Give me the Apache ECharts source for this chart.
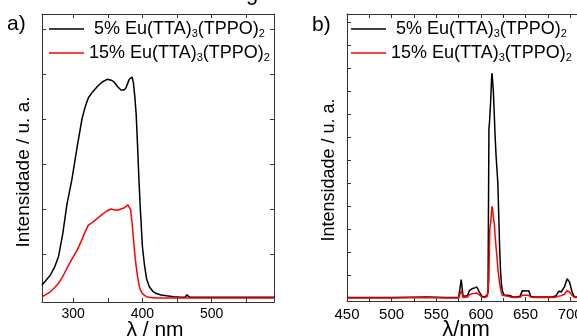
<!DOCTYPE html>
<html>
<head>
<meta charset="utf-8">
<script src="https://cdn.jsdelivr.net/npm/echarts@6/dist/echarts.min.js"></script>
<style>
html,body{margin:0;padding:0;background:#fff;}
#c{width:577px;height:336px;}
</style>
</head>
<body>
<div id="c"></div>
<script>
// ---- Panel a) excitation spectra ----
const exLambda = [255,260,267,273,279,285,291,298,306,313,318,322,328,335,342,349,355,359,364,369,373,376,379,381,383,385,387,389,391,393,395,397,400,403,406,410,415,420,427,435,445,455,462,464,465,466,468,475,500,530,560,590];
const ex5 = [0.31,0.40,0.53,0.70,0.95,1.45,2.10,2.64,3.40,4.02,4.30,4.47,4.60,4.72,4.82,4.88,4.86,4.82,4.72,4.64,4.64,4.68,4.80,4.88,4.92,4.93,4.80,4.50,4.10,3.40,2.64,2.00,1.16,0.75,0.45,0.27,0.17,0.12,0.09,0.07,0.05,0.04,0.04,0.09,0.12,0.05,0.04,0.04,0.04,0.04,0.04,0.04];
const ex15 = [0.05,0.09,0.16,0.25,0.35,0.50,0.68,0.88,1.09,1.33,1.52,1.64,1.70,1.79,1.88,1.96,2.00,1.98,1.97,2.00,2.02,2.05,2.09,2.08,1.98,1.70,1.35,1.00,0.72,0.50,0.32,0.20,0.12,0.08,0.05,0.04,0.03,0.02,0.02,0.02,0.02,0.02,0.02,0.02,0.02,0.02,0.02,0.02,0.02,0.02,0.02,0.02];
const exTickLabels = [300,400,500];
const exTicks = [300,350,400,450,500,550];

// ---- Panel b) emission spectra ----
const emLambda = [450,500,540,560,575,577,578,579,580,582,585,587,590,593,595.5,598,601,604,606,607,608,609,609.5,610,611,612,612.5,613,614,615,616,617,618,619,620,621,622,623,624,626,630,633,636,640,644,646.5,648.5,650.5,652,653.5,656,660,670,680,684.3,687.2,689.9,693.6,696.6,699.2,702.2,704.8,708,712,720];
const em5 = [0.01,0.01,0.02,0.01,0.01,0.03,0.40,0.40,0.04,0.03,0.05,0.16,0.20,0.22,0.24,0.14,0.04,0.02,0.03,0.06,0.12,3.70,3.78,3.80,4.30,4.80,4.90,4.92,4.50,4.00,3.50,3.10,2.80,2.50,1.80,1.10,0.60,0.30,0.16,0.06,0.06,0.05,0.02,0.02,0.04,0.16,0.15,0.15,0.15,0.16,0.03,0.02,0.02,0.02,0.05,0.15,0.13,0.24,0.42,0.35,0.13,0.02,0.02,0.02,0.02];
const em15 = [0.00,0.00,0.01,0.00,0.00,0.01,0.16,0.16,0.01,0.01,0.02,0.07,0.09,0.10,0.11,0.07,0.02,0.01,0.02,0.03,0.04,0.40,1.04,1.50,1.65,1.90,2.00,1.95,1.75,1.62,1.35,1.10,0.90,0.65,0.48,0.33,0.20,0.12,0.06,0.02,0.04,0.02,0.01,0.01,0.02,0.06,0.06,0.06,0.06,0.06,0.02,0.01,0.01,0.01,0.02,0.04,0.05,0.08,0.16,0.13,0.06,0.01,0.01,0.01,0.01];
const emYTicks = [0.5,1,1.5,2,2.5,3,3.5,4,4.5,5,5.5,6];

const seriesNames = ['5% Eu(TTA)3(TPPO)2','15% Eu(TTA)3(TPPO)2'];
const yTitle = 'Intensidade / u. a.';
const xTitleA = 'λ / nm';
const xTitleB = 'λ/nm';

const FONT = '"Liberation Sans", Arial, sans-serif';
const AX = '#333';
const pairs = (xs, ys) => xs.map((x, i) => [x, ys[i]]);

const chart = echarts.init(document.getElementById('c'), null, {renderer: 'canvas'});

function frameAxis(extra) {
  return Object.assign({
    type: 'value',
    axisLine: {show: true, onZero: false, lineStyle: {color: AX, width: 1}},
    axisTick: {show: true, inside: true, length: 4, lineStyle: {color: AX, width: 1}},
    axisLabel: {show: false},
    splitLine: {show: false}
  }, extra);
}

const legendCommon = {
  orient: 'vertical',
  padding: 0,
  itemWidth: 35,
  itemHeight: 14,
  itemGap: 4,
  icon: 'path://M0,0 H40 V1.6 H0 Z',
  selectedMode: false,
  textStyle: {
    fontFamily: FONT, fontSize: 18, color: '#000',
    rich: {
      n: {fontFamily: FONT, fontSize: 18, color: '#000', lineHeight: 20},
      s: {fontFamily: FONT, fontSize: 11, color: '#000', verticalAlign: 'bottom', lineHeight: 20, padding: [9, 0, 0, 0]}
    }
  },
  formatter: function (name) {
    const lead = name.indexOf('5%') === 0 ? ' ' : '';
    return (lead + name).replace(/\)(\d)/g, '){s|$1}').replace(/^([^{]+)\{/, '{n|$1}{').replace(/\}([^{]+)\{/g, '}{n|$1}{');
  }
};

const option = {
  animation: false,
  backgroundColor: '#fff',
  grid: [
    {left: 42, top: 14, width: 232, height: 288, containLabel: false, outerBoundsMode: 'none'},
    {left: 347, top: 14, width: 241, height: 287, containLabel: false, outerBoundsMode: 'none'}
  ],
  legend: [
    Object.assign({}, legendCommon, {left: 49, top: 19, data: seriesNames}),
    Object.assign({}, legendCommon, {left: 351, top: 19, data: seriesNames})
  ],
  xAxis: [
    frameAxis({gridIndex: 0, position: 'bottom', min: 255, max: 590,
      axisTick: {show: true, inside: true, length: 4, customValues: exTicks, lineStyle: {color: AX}},
      axisLabel: {show: true, customValues: exTickLabels, margin: 5, fontFamily: FONT, fontSize: 14, color: '#000'}}),
    frameAxis({gridIndex: 0, position: 'top', min: 255, max: 590,
      axisTick: {show: true, inside: true, length: 4, customValues: exTicks, lineStyle: {color: AX}}}),
    frameAxis({gridIndex: 1, position: 'bottom', min: 450, max: 720, interval: 50,
      minorTick: {show: true, splitNumber: 2, length: 3, lineStyle: {color: AX}},
      axisLabel: {show: true, margin: 6, fontFamily: FONT, fontSize: 15, color: '#000', showMaxLabel: false}}),
    frameAxis({gridIndex: 1, position: 'top', min: 450, max: 720, interval: 25})
  ],
  yAxis: [
    frameAxis({gridIndex: 0, position: 'left', min: -0.067, max: 6.33,
      axisTick: {show: true, inside: true, length: 4, customValues: [1,2,3,4,5,6], lineStyle: {color: AX}}}),
    frameAxis({gridIndex: 0, position: 'right', min: -0.067, max: 6.33,
      axisTick: {show: true, inside: true, length: 4, customValues: [1,2,3,4,5,6], lineStyle: {color: AX}}}),
    frameAxis({gridIndex: 1, position: 'left', min: -0.066, max: 6.19,
      axisTick: {show: true, inside: true, length: 4, customValues: emYTicks, lineStyle: {color: AX}}})
  ],
  series: [
    {type: 'line', name: seriesNames[0], xAxisIndex: 0, yAxisIndex: 0, data: pairs(exLambda, ex5),
      symbol: 'none', lineStyle: {color: '#000', width: 1.5}, itemStyle: {color: '#000'}},
    {type: 'line', name: seriesNames[1], xAxisIndex: 0, yAxisIndex: 0, data: pairs(exLambda, ex15),
      symbol: 'none', lineStyle: {color: '#ff0000', width: 1.5}, itemStyle: {color: '#ff0000'}},
    {type: 'line', name: seriesNames[0], xAxisIndex: 2, yAxisIndex: 2, data: pairs(emLambda, em5),
      symbol: 'none', lineStyle: {color: '#000', width: 1.5}, itemStyle: {color: '#000'}},
    {type: 'line', name: seriesNames[1], xAxisIndex: 2, yAxisIndex: 2, data: pairs(emLambda, em15),
      symbol: 'none', lineStyle: {color: '#ff0000', width: 1.5}, itemStyle: {color: '#ff0000'}}
  ],
  graphic: [
    {type: 'text', x: 7, y: 24, style: {text: 'a)', font: '21px ' + FONT, fill: '#000', align: 'left', verticalAlign: 'middle'}},
    {type: 'text', x: 312, y: 25, style: {text: 'b)', font: '21px ' + FONT, fill: '#000', align: 'left', verticalAlign: 'middle'}},
    {type: 'text', x: 24, y: 172, rotation: Math.PI / 2, style: {text: yTitle, font: '19px ' + FONT, fill: '#000', align: 'center', verticalAlign: 'middle'}},
    {type: 'text', x: 329, y: 170, rotation: Math.PI / 2, style: {text: yTitle, font: '18px ' + FONT, fill: '#000', align: 'center', verticalAlign: 'middle'}},
    {type: 'text', x: 155, y: 330, style: {text: xTitleA, font: '21px ' + FONT, fill: '#000', align: 'center', verticalAlign: 'middle'}},
    {type: 'text', x: 466, y: 330, style: {text: xTitleB, font: '22px ' + FONT, fill: '#000', align: 'center', verticalAlign: 'middle'}},
    {type: 'text', x: 252, y: 5, style: {text: 'g', font: '22px ' + FONT, fill: '#000', align: 'center', verticalAlign: 'bottom'}}
  ]
};
chart.setOption(option);
</script>
</body>
</html>
